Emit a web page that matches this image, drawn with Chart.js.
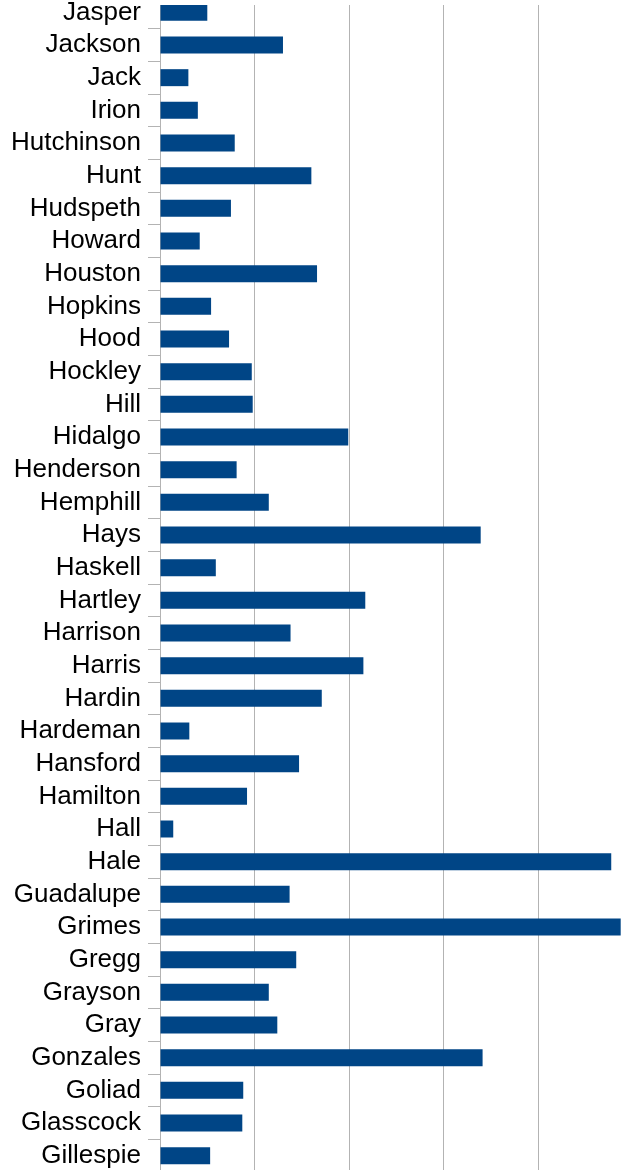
<!DOCTYPE html>
<html>
<head>
<meta charset="utf-8">
<script src="https://cdn.jsdelivr.net/npm/chart.js@4.4.1/dist/chart.umd.min.js"></script>
<style>
  html, body { margin: 0; padding: 0; background: #ffffff; overflow: hidden; }
  #wrap { position: absolute; left: 0; top: -4px; width: 633px; height: 1176px; }
</style>
</head>
<body>
<div id="wrap"><canvas id="c"></canvas></div>
<script>
const categories = ["Jasper","Jackson","Jack","Irion","Hutchinson","Hunt","Hudspeth","Howard","Houston","Hopkins","Hood","Hockley","Hill","Hidalgo","Henderson","Hemphill","Hays","Haskell","Hartley","Harrison","Harris","Hardin","Hardeman","Hansford","Hamilton","Hall","Hale","Guadalupe","Grimes","Gregg","Grayson","Gray","Gonzales","Goliad","Glasscock","Gillespie"];
const values = [0.50,1.30,0.30,0.40,0.79,1.60,0.75,0.42,1.66,0.54,0.73,0.97,0.98,1.99,0.81,1.15,3.39,0.59,2.17,1.38,2.15,1.71,0.31,1.47,0.92,0.14,4.77,1.37,4.87,1.44,1.15,1.24,3.41,0.88,0.87,0.53];
const xMin = 0, xMax = 5, xStep = 1;

// the plot area in the reference begins a few pixels below the top edge
const topClip = {
  id: 'topClip',
  afterDraw(chart) {
    const ctx = chart.ctx;
    ctx.save();
    ctx.fillStyle = '#ffffff';
    ctx.fillRect(chart.chartArea.left - 1, 0, chart.width, 9);
    ctx.restore();
  }
};

new Chart(document.getElementById('c'), {
  type: 'bar',
  data: {
    labels: categories,
    datasets: [{ data: values, backgroundColor: '#004586', borderWidth: 0, barPercentage: 0.52, categoryPercentage: 1.0 }]
  },
  options: {
    indexAxis: 'y',
    responsive: true,
    maintainAspectRatio: false,
    animation: false,
    layout: { padding: 0 },
    plugins: { legend: { display: false }, tooltip: { enabled: false } },
    scales: {
      x: {
        min: xMin, max: xMax,
        ticks: { display: false, stepSize: xStep },
        grid: { color: '#b3b3b3', lineWidth: 1, drawTicks: false },
        border: { display: false },
        afterFit: (s) => { s.height = 0; }
      },
      y: {
        ticks: { color: '#000000', font: { family: 'Liberation Sans', size: 26 }, padding: 7, autoSkip: false },
        grid: { drawOnChartArea: false, drawTicks: true, tickLength: 12, color: '#b3b3b3' },
        border: { display: true, color: '#b3b3b3' },
        afterFit: (s) => { s.width = 160; s.paddingTop = 0; s.paddingBottom = 0; }
      }
    }
  },
  plugins: [topClip]
});
</script>
</body>
</html>
